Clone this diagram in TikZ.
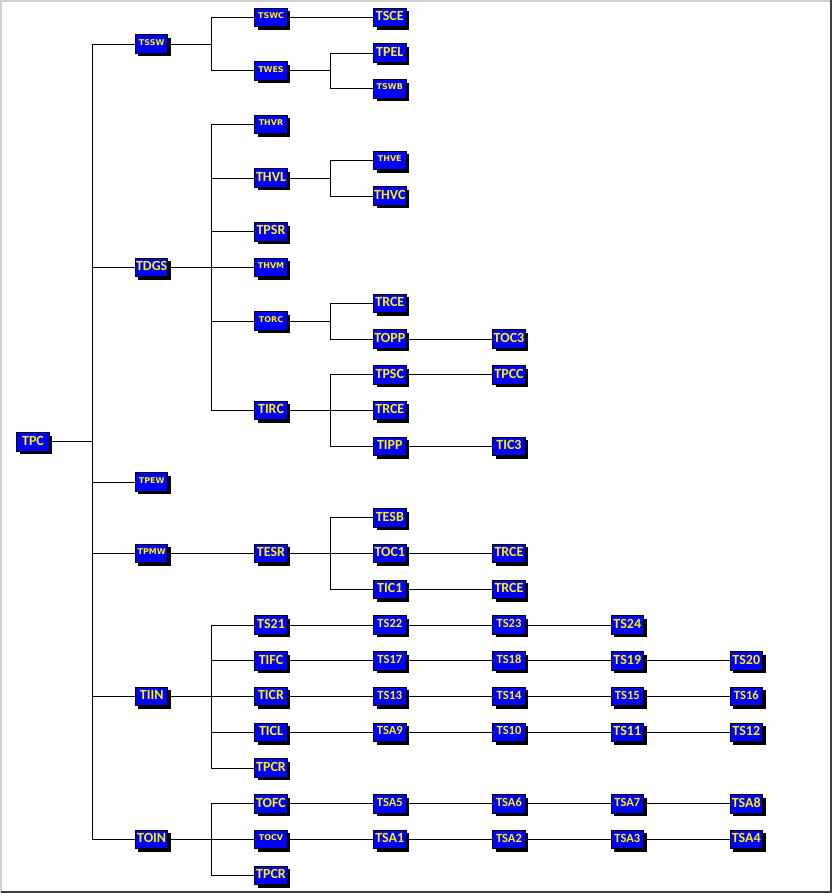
\documentclass[tikz,border=0pt]{standalone}
\usepackage{fontspec}
\setmainfont{Liberation Sans}
\newfontfamily\bigf{Carlito}
\newfontfamily\smallf{DejaVu Sans}
\usetikzlibrary{shadows,backgrounds}
\definecolor{frameL}{HTML}{D0D0D0}
\definecolor{frameD}{HTML}{404040}
\tikzset{
  box/.style={draw=black, line width=1pt, fill=blue, text=yellow,
    minimum width=32.5pt, minimum height=18.5pt, inner sep=0pt,
    drop shadow={shadow xshift=3pt, shadow yshift=-3pt, opacity=1, fill=black}},
  L/.style={box, font=\bigf\fontsize{14}{14}\selectfont\bfseries, text height=9pt, text depth=2.6pt},
  M/.style={box, font=\bigf\fontsize{12.5}{12.5}\selectfont\bfseries, text height=8pt, text depth=2.8pt},
  S/.style={box, font=\smallf\fontsize{8}{8}\selectfont\bfseries, text height=5.8pt, text depth=3.6pt},
  conn/.style={draw=black, line width=1pt}
}
\begin{document}
\begin{tikzpicture}
\useasboundingbox (0,0) rectangle (832pt,-893pt);
\begin{scope}[on background layer]
  \fill[white] (0,0) rectangle (832pt,-893pt);
  \fill[frameL] (0,0) rectangle (832pt,-2pt);
  \fill[frameL] (0,0) rectangle (2pt,-893pt);
  \fill[frameD] (829.5pt,0) rectangle (832pt,-893pt);
  \fill[frameD] (1pt,-890.5pt) rectangle (832pt,-893pt);
\end{scope}
\begin{scope}[x=1pt, y=-35.75pt, yshift=-17.3pt]
  \coordinate (bA) at (92,0);
  \coordinate (bB) at (211,0);
  \coordinate (bC) at (330,0);
  % column 0
  \node[L] (tpc) at (33,11.875) {TPC};
  % column 1
  \node[S] (tssw) at (151.7,0.75) {TSSW};
  \node[L] (tdgs) at (151.7,7) {TDGS};
  \node[S] (tpew) at (151.7,13) {TPEW};
  \node[S] (tpmw) at (151.7,15) {TPMW};
  \node[L] (tiin) at (151.7,19) {TIIN};
  \node[L] (toin) at (151.7,23) {TOIN};
  % column 2
  \node[S] (tswc) at (271,0) {TSWC};
  \node[S] (twes) at (271,1.5) {TWES};
  \node[S] (thvr) at (271,3) {THVR};
  \node[L] (thvl) at (271,4.5) {THVL};
  \node[L] (tpsr) at (271,6) {TPSR};
  \node[S] (thvm) at (271,7) {THVM};
  \node[S] (torc) at (271,8.5) {TORC};
  \node[L] (tirc) at (271,11) {TIRC};
  \node[L] (tesr) at (271,15) {TESR};
  \node[L] (ts21) at (271,17) {TS21};
  \node[L] (tifc) at (271,18) {TIFC};
  \node[L] (ticr) at (271,19) {TICR};
  \node[L] (ticl) at (271,20) {TICL};
  \node[L] (tpcra) at (271,21) {TPCR};
  \node[L] (tofc) at (271,22) {TOFC};
  \node[S] (tocv) at (271,23) {TOCV};
  \node[L] (tpcrb) at (271,24) {TPCR};
  % column 3
  \node[L] (tsce) at (389.8,0) {TSCE};
  \node[L] (tpel) at (389.8,1) {TPEL};
  \node[S] (tswb) at (389.8,2) {TSWB};
  \node[S] (thve) at (389.8,4) {THVE};
  \node[L] (thvc) at (389.8,5) {THVC};
  \node[L] (trcea) at (389.8,8) {TRCE};
  \node[L] (topp) at (389.8,9) {TOPP};
  \node[L] (tpsc) at (389.8,10) {TPSC};
  \node[L] (trceb) at (389.8,11) {TRCE};
  \node[L] (tipp) at (389.8,12) {TIPP};
  \node[L] (tesb) at (389.8,14) {TESB};
  \node[L] (toc1) at (389.8,15) {TOC1};
  \node[L] (tic1) at (389.8,16) {TIC1};
  \node[M] (ts22) at (389.8,17) {TS22};
  \node[M] (ts17) at (389.8,18) {TS17};
  \node[M] (ts13) at (389.8,19) {TS13};
  \node[M] (tsa9) at (389.8,20) {TSA9};
  \node[M] (tsa5) at (389.8,22) {TSA5};
  \node[L] (tsa1) at (389.8,23) {TSA1};
  % column 4
  \node[L] (toc3) at (509,9) {TOC3};
  \node[L] (tpcc) at (509,10) {TPCC};
  \node[L] (tic3) at (509,12) {TIC3};
  \node[L] (trcec) at (509,15) {TRCE};
  \node[L] (trced) at (509,16) {TRCE};
  \node[M] (ts23) at (509,17) {TS23};
  \node[M] (ts18) at (509,18) {TS18};
  \node[M] (ts14) at (509,19) {TS14};
  \node[M] (ts10) at (509,20) {TS10};
  \node[M] (tsa6) at (509,22) {TSA6};
  \node[M] (tsa2) at (509,23) {TSA2};
  % column 5
  \node[L] (ts24) at (627.3,17) {TS24};
  \node[L] (ts19) at (627.3,18) {TS19};
  \node[M] (ts15) at (627.3,19) {TS15};
  \node[L] (ts11) at (627.3,20) {TS11};
  \node[M] (tsa7) at (627.3,22) {TSA7};
  \node[M] (tsa3) at (627.3,23) {TSA3};
  % column 6
  \node[L] (ts20) at (746.3,18) {TS20};
  \node[M] (ts16) at (746.3,19) {TS16};
  \node[L] (ts12) at (746.3,20) {TS12};
  \node[L] (tsa8) at (746.3,22) {TSA8};
  \node[L] (tsa4) at (746.3,23) {TSA4};
\end{scope}
\begin{scope}[on background layer]
  % bus A
  \foreach \c in {tssw,tdgs,tpew,tpmw,tiin,toin}
    \draw[conn] (tpc.east) -- (tpc.east -| bA) |- (\c.west);
  % bus B
  \foreach \c in {tswc,twes}
    \draw[conn] (tssw.east) -- (tssw.east -| bB) |- (\c.west);
  \foreach \c in {thvr,thvl,tpsr,thvm,torc,tirc}
    \draw[conn] (tdgs.east) -- (tdgs.east -| bB) |- (\c.west);
  \foreach \c in {ts21,tifc,ticr,ticl,tpcra}
    \draw[conn] (tiin.east) -- (tiin.east -| bB) |- (\c.west);
  \foreach \c in {tofc,tocv,tpcrb}
    \draw[conn] (toin.east) -- (toin.east -| bB) |- (\c.west);
  % bus C
  \foreach \c in {tpel,tswb}
    \draw[conn] (twes.east) -- (twes.east -| bC) |- (\c.west);
  \foreach \c in {thve,thvc}
    \draw[conn] (thvl.east) -- (thvl.east -| bC) |- (\c.west);
  \foreach \c in {trcea,topp}
    \draw[conn] (torc.east) -- (torc.east -| bC) |- (\c.west);
  \foreach \c in {tpsc,trceb,tipp}
    \draw[conn] (tirc.east) -- (tirc.east -| bC) |- (\c.west);
  \foreach \c in {tesb,toc1,tic1}
    \draw[conn] (tesr.east) -- (tesr.east -| bC) |- (\c.west);
  % straight links
  \foreach \a/\b in {tpmw/tesr, tswc/tsce, topp/toc3, tpsc/tpcc, tipp/tic3,
      toc1/trcec, tic1/trced,
      ts21/ts22, ts22/ts23, ts23/ts24,
      tifc/ts17, ts17/ts18, ts18/ts19, ts19/ts20,
      ticr/ts13, ts13/ts14, ts14/ts15, ts15/ts16,
      ticl/tsa9, tsa9/ts10, ts10/ts11, ts11/ts12,
      tofc/tsa5, tsa5/tsa6, tsa6/tsa7, tsa7/tsa8,
      tocv/tsa1, tsa1/tsa2, tsa2/tsa3, tsa3/tsa4}
    \draw[conn] (\a.east) -- (\b.west);
\end{scope}
\end{tikzpicture}
\end{document}
